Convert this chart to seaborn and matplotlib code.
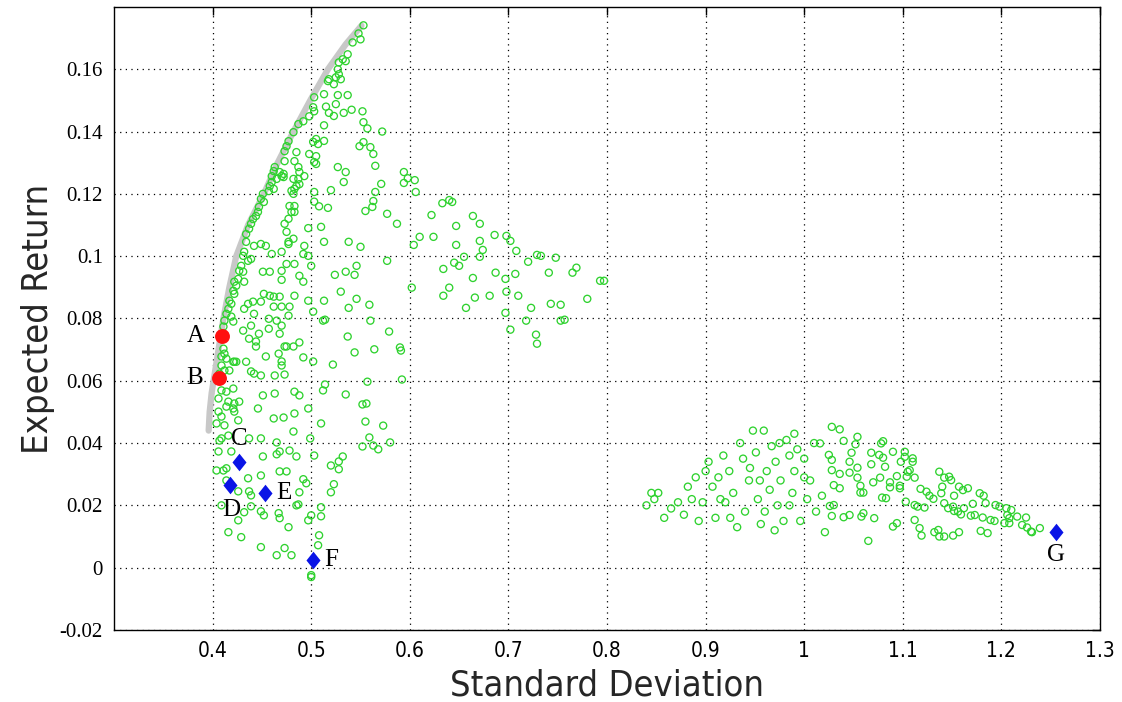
import matplotlib
matplotlib.use("Agg")
import matplotlib.pyplot as plt
from matplotlib import font_manager
from matplotlib.font_manager import FontProperties
import seaborn as sns
import pandas as pd

# ---- efficient frontier (grey curve) ----
frontier_std = [0.396, 0.397, 0.399, 0.402, 0.406, 0.411, 0.417, 0.424, 0.436,
                0.452, 0.466, 0.482, 0.499, 0.517, 0.535, 0.551]
frontier_ret = [0.044, 0.050, 0.056, 0.062, 0.070, 0.080, 0.090, 0.100, 0.110,
                0.120, 0.130, 0.140, 0.150, 0.160, 0.168, 0.174]

# ---- simulated portfolios, low-risk cloud ----
low_cloud = [
    (.553, .1741), (.548, .1715), (.550, .1696), (.542, .1686), (.537, .1648), (.532, .1632),
    (.528, .1622), (.535, .1626), (.527, .1600), (.528, .1584), (.525, .1574), (.530, .1568),
    (.518, .1568), (.517, .1562), (.523, .1552), (.513, .1520), (.503, .1510), (.502, .1478),
    (.503, .1465), (.498, .1449), (.492, .1433), (.487, .1424), (.482, .1398), (.477, .1369),
    (.475, .1353), (.473, .1337), (.473, .1305), (.472, .1264), (.472, .1254),
    (.527, .1517), (.537, .1517), (.525, .1488), (.515, .1480), (.518, .1460), (.523, .1450),
    (.533, .1460), (.541, .1470), (.552, .1465), (.513, .1420), (.553, .1430), (.557, .1410),
    (.572, .1400), (.505, .1376), (.513, .1370), (.502, .1367), (.507, .1360), (.553, .1366),
    (.549, .1353), (.560, .1350), (.563, .1328), (.565, .1290),
    (.485, .1334), (.498, .1328), (.505, .1321), (.483, .1305), (.503, .1302), (.505, .1296),
    (.487, .1286), (.488, .1270), (.493, .1257), (.482, .1248), (.487, .1248), (.485, .1225),
    (.488, .1231), (.480, .1210), (.483, .1216), (.482, .1200),
    (.527, .1286), (.535, .1270), (.533, .1238),
    (.594, .1270), (.598, .1250), (.594, .1235), (.605, .1244), (.606, .1206),
    (.571, .1232), (.565, .1206), (.520, .1212), (.503, .1206), (.503, .1175), (.508, .1160),
    (.517, .1155), (.563, .1177), (.562, .1158), (.555, .1145), (.577, .1136), (.587, .1104),
    (.478, .1161), (.483, .1161), (.483, .1142), (.480, .1142), (.477, .1120), (.473, .1104),
    (.475, .1078), (.482, .1056), (.477, .1046),
    (.497, .1090), (.510, .1094), (.513, .1046), (.538, .1046), (.550, .1030), (.493, .1033),
    (.468, .1270), (.463, .1286), (.462, .1273), (.460, .1257), (.465, .1248), (.470, .1257),
    (.460, .1238), (.458, .1225), (.462, .1216), (.457, .1209), (.451, .1200), (.449, .1184),
    (.452, .1174), (.447, .1158), (.446, .1142), (.444, .1129), (.441, .1119), (.439, .1104),
    (.437, .1088), (.434, .1071),
    (.633, .1170), (.640, .1180), (.643, .1174), (.622, .1132), (.664, .1129), (.671, .1104),
    (.647, .1097), (.610, .1062), (.624, .1062), (.604, .1036), (.647, .1036), (.671, .1049),
    (.674, .1020), (.671, .0998), (.686, .1068), (.698, .1065), (.702, .1049), (.708, .1017),
    (.655, .0998), (.645, .0979), (.650, .0969), (.634, .0959), (.729, .1004), (.733, .1001),
    (.748, .0995), (.720, .0982), (.769, .0963), (.765, .0947), (.741, .0947), (.793, .0921),
    (.797, .0921), (.780, .0863), (.687, .0947), (.707, .0943), (.697, .0927), (.664, .0930),
    (.602, .0899), (.640, .0899), (.634, .0873), (.698, .0886), (.710, .0873), (.681, .0873),
    (.666, .0867), (.657, .0834), (.723, .0834), (.743, .0847), (.753, .0844), (.697, .0818),
    (.718, .0793), (.753, .0793), (.757, .0796), (.702, .0764), (.728, .0748), (.729, .0719),
    (.591, .0697),
    (.492, .1007), (.497, .1001), (.500, .0969), (.475, .0975), (.470, .0953), (.577, .0985),
    (.546, .0969), (.535, .0950), (.524, .0940), (.544, .0940), (.488, .0937), (.492, .0918),
    (.470, .0924), (.530, .0886), (.483, .0873), (.497, .0857), (.513, .0857), (.546, .0863),
    (.538, .0834), (.559, .0844), (.470, .0838), (.502, .0822), (.477, .0809), (.512, .0793),
    (.514, .0796), (.560, .0793), (.470, .0777), (.579, .0758), (.537, .0742), (.488, .0723),
    (.473, .0710), (.475, .0710), (.544, .0691), (.564, .0701), (.590, .0707), (.492, .0675),
    (.502, .0662), (.522, .0652), (.470, .0662), (.473, .0620), (.557, .0597), (.592, .0604),
    (.514, .0588), (.512, .0569), (.483, .0565), (.488, .0553), (.535, .0556), (.497, .0511),
    (.552, .0524), (.556, .0527), (.472, .0482), (.483, .0495), (.510, .0463), (.555, .0469),
    (.573, .0456), (.482, .0437), (.499, .0415), (.559, .0418), (.552, .0389), (.563, .0392),
    (.568, .0380), (.580, .0402), (.478, .0376), (.503, .0360), (.485, .0357), (.532, .0357),
    (.434, .1046), (.432, .1014), (.431, .1001), (.439, .0991), (.436, .0985), (.429, .0969),
    (.427, .0953), (.431, .0950), (.426, .0927), (.422, .0918), (.424, .0905), (.432, .0918),
    (.421, .0889), (.422, .0879), (.417, .0857), (.419, .0847), (.416, .0831), (.414, .0815),
    (.412, .0793), (.421, .0790), (.411, .0774), (.419, .0806),
    (.442, .1033), (.449, .1039), (.454, .1033), (.460, .1007), (.470, .1014), (.477, .1039),
    (.483, .0975), (.451, .0950), (.458, .0950), (.452, .0879), (.458, .0873), (.462, .0870),
    (.468, .0870), (.436, .0847), (.441, .0854), (.449, .0854), (.462, .0838), (.478, .0838),
    (.432, .0831), (.442, .0815), (.457, .0799), (.465, .0793), (.457, .0767), (.431, .0761),
    (.439, .0777), (.447, .0751), (.468, .0751), (.437, .0735), (.444, .0726), (.444, .0710),
    (.467, .0687), (.482, .0710), (.422, .0661), (.434, .0661), (.454, .0678), (.470, .0649),
    (.442, .0623), (.449, .0617), (.463, .0617), (.439, .0630),
    (.411, .0703), (.412, .0687), (.409, .0678), (.414, .0671), (.421, .0661), (.424, .0661),
    (.409, .0649), (.412, .0633), (.417, .0633), (.407, .0623),
    (.409, .0569), (.414, .0565), (.421, .0575), (.406, .0543), (.416, .0533), (.422, .0527),
    (.427, .0533), (.414, .0517), (.421, .0511), (.422, .0501), (.406, .0501), (.409, .0485),
    (.404, .0463), (.412, .0457), (.426, .0473), (.409, .0415), (.407, .0408), (.416, .0424),
    (.437, .0415), (.449, .0415), (.462, .0479), (.451, .0553), (.463, .0559), (.446, .0511),
    (.406, .0373), (.419, .0373), (.465, .0402), (.468, .0373), (.465, .0364), (.451, .0357),
    (.528, .0341), (.520, .0328), (.528, .0316), (.404, .0312), (.411, .0312), (.414, .0319),
    (.468, .0309), (.475, .0309), (.436, .0287), (.449, .0296), (.492, .0284), (.495, .0271),
    (.523, .0268), (.520, .0242), (.414, .0280), (.426, .0245), (.437, .0245), (.439, .0232),
    (.488, .0242), (.409, .0200), (.432, .0178), (.439, .0197), (.449, .0181), (.452, .0168),
    (.467, .0175), (.468, .0159), (.485, .0200), (.487, .0203), (.510, .0194), (.500, .0168),
    (.497, .0152), (.510, .0165), (.426, .0152), (.477, .0130), (.416, .0114), (.429, .0098),
    (.508, .0104), (.507, .0072), (.449, .0066), (.473, .0063), (.465, .0040), (.480, .0040),
    (.500, -.0024), (.500, -.0030),
]

# ---- simulated portfolios, high-risk cloud ----
high_cloud = [
    (.840, .020), (.845, .024), (.848, .022), (.852, .024), (.858, .016), (.865, .019),
    (.872, .021), (.878, .017), (.882, .026), (.886, .022), (.890, .029), (.893, .015),
    (.897, .021), (.900, .031), (.903, .034), (.907, .026), (.910, .016), (.913, .029),
    (.918, .036), (.920, .021), (.924, .031), (.928, .024), (.932, .013), (.935, .040),
    (.938, .035), (.940, .018), (.944, .028), (.948, .044), (.951, .037), (.953, .022),
    (.956, .014), (.959, .044), (.962, .031), (.965, .025), (.967, .039), (.971, .034),
    (.973, .020), (.976, .028), (.979, .015), (.982, .041), (.985, .036), (.988, .024),
    (.990, .031), (.993, .038), (.996, .015), (1.000, .035), (1.003, .022), (1.006, .028),
    (1.010, .040), (1.012, .018), (.925, .016), (.945, .032), (.960, .018), (.970, .012),
    (.985, .020), (1.000, .029), (.915, .022), (.955, .028), (.975, .040), (.990, .043),
    (1.028, .0452), (1.036, .0444), (1.016, .0399), (1.040, .0407), (1.054, .0420),
    (1.052, .0396), (1.080, .0406), (1.078, .0399), (1.048, .0369), (1.046, .0340),
    (1.068, .0369), (1.076, .0362), (1.080, .0353), (1.090, .0372), (1.102, .0372),
    (1.102, .0356), (1.110, .0351), (1.110, .0340), (1.025, .0362), (1.028, .0346),
    (1.028, .0313), (1.036, .0301), (1.046, .0305), (1.054, .0321), (1.054, .0289),
    (1.068, .0332), (1.082, .0324), (1.077, .0289), (1.070, .0274), (1.087, .0274),
    (1.094, .0294), (1.098, .0340), (1.105, .0308), (1.104, .0292), (1.112, .0289),
    (1.107, .0313), (1.030, .0265), (1.036, .0255), (1.057, .0263), (1.057, .0241),
    (1.060, .0241), (1.079, .0225), (1.083, .0223), (1.087, .0258), (1.097, .0263),
    (1.097, .0255), (1.018, .0231), (1.026, .0198), (1.030, .0201), (1.028, .0166),
    (1.040, .0162), (1.046, .0169), (1.058, .0164), (1.060, .0175), (1.071, .0159),
    (1.021, .0114), (1.065, .0086), (1.090, .0132), (1.094, .0143), (1.103, .0212),
    (1.112, .0201), (1.115, .0196), (1.122, .0193), (1.118, .0253), (1.124, .0244),
    (1.127, .0231), (1.131, .0221), (1.112, .0153), (1.117, .0127), (1.119, .0103),
    (1.137, .0308), (1.142, .0289), (1.147, .0292), (1.149, .0281), (1.140, .0260),
    (1.139, .0239), (1.142, .0207), (1.152, .0231), (1.157, .0260), (1.161, .0249),
    (1.166, .0255), (1.146, .0191), (1.151, .0196), (1.152, .0182), (1.156, .0180),
    (1.159, .0171), (1.162, .0191), (1.132, .0114), (1.136, .0121), (1.137, .0100),
    (1.142, .0100), (1.151, .0103), (1.157, .0114), (1.169, .0167), (1.173, .0169),
    (1.181, .0161), (1.171, .0205), (1.178, .0239), (1.182, .0231), (1.184, .0207),
    (1.189, .0153), (1.193, .0150), (1.179, .0118), (1.186, .0111), (1.194, .0201),
    (1.198, .0196), (1.205, .0191), (1.210, .0185), (1.206, .0169), (1.208, .0159),
    (1.203, .0143), (1.208, .0143), (1.216, .0164), (1.225, .0161), (1.221, .0137),
    (1.226, .0129), (1.230, .0116), (1.231, .0114), (1.239, .0127),
]

# ---- highlighted portfolios ----
red_labels = ["A", "B"]
red_std = [0.410, 0.406]
red_ret = [0.0745, 0.0610]

blue_labels = ["C", "D", "E", "F", "G"]
blue_std = [0.427, 0.418, 0.453, 0.502, 1.255]
blue_ret = [0.0338, 0.0264, 0.0239, 0.0024, 0.0115]

x_ticks = [0.4, 0.5, 0.6, 0.7, 0.8, 0.9, 1.0, 1.1, 1.2, 1.3]
y_ticks = [-0.02, 0, 0.02, 0.04, 0.06, 0.08, 0.1, 0.12, 0.14, 0.16]


def fmt(v):
    s = f"{v:.2f}".rstrip("0").rstrip(".")
    return "0" if s in ("-0", "0") else s


def narrow_font(size):
    """Pick a narrow/condensed sans face if one is installed."""
    cands = []
    for f in font_manager.fontManager.ttflist:
        name = f.name.lower()
        style_ok = f.style == "normal" and f.weight in (400, "normal", "regular")
        if ("narrow" in name or "condensed" in name or
                str(f.stretch).lower() in ("condensed", "semi-condensed",
                                           "extra-condensed")) and style_ok:
            cands.append(f)
    cands.sort(key=lambda f: (0 if "sans" in f.name.lower() else 1))
    if cands:
        return FontProperties(fname=cands[0].fname, size=size)
    return FontProperties(family="DejaVu Sans", size=size)


serif = "Liberation Serif"

sns.set_style("white")
plt.rcParams["font.family"] = [serif, "DejaVu Serif"]

cloud = pd.DataFrame(low_cloud + high_cloud, columns=["std", "ret"])
frontier = pd.DataFrame({"std": frontier_std, "ret": frontier_ret})

fig = plt.figure(figsize=(11.22, 7.02), dpi=100)
ax = fig.add_axes([0.1016, 0.1026, 0.8788, 0.8875])

sns.lineplot(data=frontier, x="std", y="ret", sort=False, color="#c8c8c8",
             linewidth=4.5, ax=ax, zorder=2)
sns.scatterplot(data=cloud, x="std", y="ret", marker="o", s=26,
                facecolor="none", edgecolor="#2fd22f", linewidth=0.95,
                ax=ax, zorder=3)

sns.scatterplot(x=red_std, y=red_ret, marker="o", s=115, color="#ff1010",
                edgecolor="#ff1010", linewidth=0, ax=ax, zorder=5)
diamond = [(0, 1), (0.8, 0), (0, -1), (-0.8, 0), (0, 1)]
sns.scatterplot(x=blue_std, y=blue_ret, marker=diamond, s=160, color="#0a14e6",
                edgecolor="#0a14e6", linewidth=0, ax=ax, zorder=5)

# point labels
label_offsets = {
    "A": (-13, 0, "right", "center"),
    "B": (-11, 0, "right", "center"),
    "C": (0, 17, "center", "center"),
    "D": (1, -18, "center", "center"),
    "E": (8, 0, "left", "center"),
    "F": (8, 0, "left", "center"),
    "G": (0, -17, "center", "center"),
}
for lab, xs, ys in zip(red_labels + blue_labels, red_std + blue_std, red_ret + blue_ret):
    dx, dy, ha, va = label_offsets[lab]
    ax.annotate(lab, (xs, ys), xytext=(dx, dy), textcoords="offset points",
                ha=ha, va=va, fontsize=18, family=[serif, "DejaVu Serif"],
                color="black", zorder=6)

ax.set_xlim(0.3, 1.3)
ax.set_ylim(-0.02, 0.18)
ax.set_xticks(x_ticks)
ax.set_yticks(y_ticks)
ax.set_xticklabels([fmt(v) for v in x_ticks], fontproperties=narrow_font(15))
ax.set_yticklabels([fmt(v) for v in y_ticks], family=[serif, "DejaVu Serif"], fontsize=15)

ax.grid(True, color="black", linestyle=(0, (1, 3.5)), linewidth=0.9)
ax.set_axisbelow(True)
ax.tick_params(direction="in", length=6, width=1, top=True, right=True,
               colors="black", pad=8)
for sp in ax.spines.values():
    sp.set_visible(True)
    sp.set_color("black")
    sp.set_linewidth(1.0)

ax.set_xlabel("Standard Deviation", fontproperties=narrow_font(26), labelpad=5)
ax.set_ylabel("Expected Return", fontproperties=narrow_font(26), labelpad=3)

fig.savefig("out.png", dpi=100, facecolor="white")
